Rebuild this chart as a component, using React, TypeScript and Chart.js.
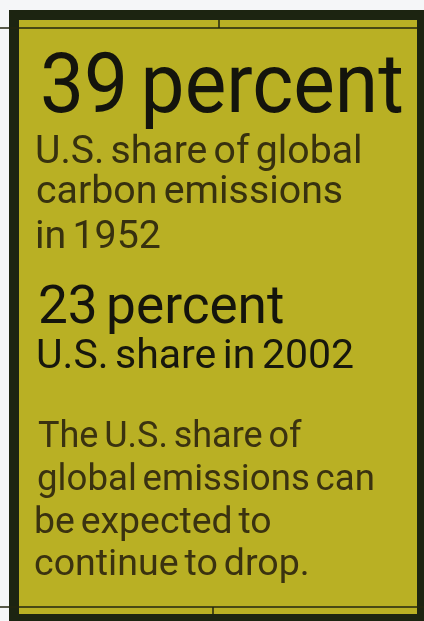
import React, { useEffect, useMemo, useRef } from 'react';
import { Chart, registerables } from 'chart.js';

Chart.register(...registerables);

// ---- data ----
const shareValues = [39, 23];
const shareYears = [1952, 2002];
const unitWord = 'percent';
const firstCaption = ['U.S. share of global', 'carbon emissions', `in ${shareYears[0]}`];
const secondCaption = [`U.S. share in ${shareYears[1]}`];
const outlookLines = ['The U.S. share of', 'global emissions can', 'be expected to', 'continue to drop.'];

// ---- layout / style ----
const FONT = 'Roboto';
const W = 424;
const H = 621;
const PAPER = '#f5f6f8';
const FRAME = '#1c2411';
const PANEL = '#b9b024';
const RULE = '#23260f';
const WORD_SPACING_EM = -0.09;

type LineSpec = {
  text: string;
  size: number;
  baseline: number;
  inkLeft: number;
  inkRight: number;
  color: string;
};

const lineSpecs: LineSpec[] = [
  { text: `${shareValues[0]} ${unitWord}`, size: 83, baseline: 112, inkLeft: 43, inkRight: 402, color: '#14140c' },
  { text: firstCaption[0], size: 39, baseline: 163, inkLeft: 37, inkRight: 360, color: '#37310f' },
  { text: firstCaption[1], size: 39, baseline: 203, inkLeft: 37, inkRight: 342, color: '#37310f' },
  { text: firstCaption[2], size: 39, baseline: 248, inkLeft: 37, inkRight: 160, color: '#37310f' },
  { text: `${shareValues[1]} ${unitWord}`, size: 53, baseline: 323, inkLeft: 40, inkRight: 283, color: '#14140c' },
  { text: secondCaption[0], size: 41, baseline: 368, inkLeft: 38, inkRight: 353, color: '#17170d' },
  { text: outlookLines[0], size: 36, baseline: 447, inkLeft: 38, inkRight: 302, color: '#3a3210' },
  { text: outlookLines[1], size: 36, baseline: 490, inkLeft: 38, inkRight: 373, color: '#3a3210' },
  { text: outlookLines[2], size: 36, baseline: 533, inkLeft: 36, inkRight: 270, color: '#3a3210' },
  { text: outlookLines[3], size: 36, baseline: 575, inkLeft: 35, inkRight: 307, color: '#3a3210' },
];

const framePlugin = {
  id: 'panelFrame',
  beforeDraw(chart: any) {
    const ctx = chart.ctx as CanvasRenderingContext2D;
    const w = chart.width;
    const h = chart.height;
    ctx.save();
    ctx.fillStyle = PAPER;
    ctx.fillRect(0, 0, w, h);
    ctx.fillStyle = FRAME;
    ctx.fillRect(9, 10, w - 9, h - 10);
    ctx.fillStyle = PANEL;
    ctx.fillRect(19, 20, 417 - 19, 614 - 20);
    ctx.strokeStyle = RULE;
    ctx.lineWidth = 1.5;
    ctx.beginPath();
    ctx.moveTo(0, 28);
    ctx.lineTo(418, 28);
    ctx.moveTo(219, 20);
    ctx.lineTo(219, 28);
    ctx.moveTo(0, 607);
    ctx.lineTo(w, 607);
    ctx.moveTo(213, 607);
    ctx.lineTo(213, 614);
    ctx.stroke();
    ctx.restore();
  },
};

function useLineLayout() {
  return useMemo(() => {
    const c = document.createElement('canvas');
    const ctx = c.getContext('2d') as any;
    return lineSpecs.map((s) => {
      const ws = s.size * WORD_SPACING_EM;
      ctx.font = `400 ${s.size}px ${FONT}`;
      if ('wordSpacing' in ctx) ctx.wordSpacing = `${ws}px`;
      const m = ctx.measureText(s.text);
      const inkW = m.actualBoundingBoxLeft + m.actualBoundingBoxRight;
      const scale = (s.inkRight - s.inkLeft) / inkW;
      const left = s.inkLeft + scale * m.actualBoundingBoxLeft;
      const asc = m.fontBoundingBoxAscent;
      const desc = m.fontBoundingBoxDescent;
      const top = s.baseline - ((s.size - asc - desc) / 2 + asc);
      return { ...s, scale, left, top, ws };
    });
  }, []);
}

export default function App() {
  const canvasRef = useRef<HTMLCanvasElement | null>(null);
  const lines = useLineLayout();

  useEffect(() => {
    if (!canvasRef.current) return;
    const chart = new Chart(canvasRef.current, {
      type: 'bar',
      data: {
        labels: shareYears.map(String),
        datasets: [{ label: 'U.S. share of global carbon emissions (%)', data: shareValues, hidden: true }],
      },
      options: {
        animation: false,
        responsive: true,
        maintainAspectRatio: false,
        events: [],
        layout: { padding: 0 },
        scales: {
          x: { display: false },
          y: { display: false, min: 0, max: 100 },
        },
        plugins: { legend: { display: false }, tooltip: { enabled: false }, title: { display: false } },
      },
      plugins: [framePlugin],
    });
    return () => chart.destroy();
  }, []);

  return (
    <div style={{ position: 'fixed', left: 0, top: 0, width: W, height: H, overflow: 'hidden' }}>
      <canvas ref={canvasRef} style={{ position: 'absolute', left: 0, top: 0 }} />
      {lines.map((l, i) => (
        <div
          key={i}
          style={{
            position: 'absolute',
            left: l.left,
            top: l.top,
            fontFamily: FONT,
            fontWeight: 400,
            fontSize: l.size,
            lineHeight: `${l.size}px`,
            wordSpacing: `${l.ws}px`,
            color: l.color,
            whiteSpace: 'pre',
            transform: `scaleX(${l.scale})`,
            transformOrigin: '0 0',
            zIndex: 1,
          }}
        >
          {l.text}
        </div>
      ))}
    </div>
  );
}
